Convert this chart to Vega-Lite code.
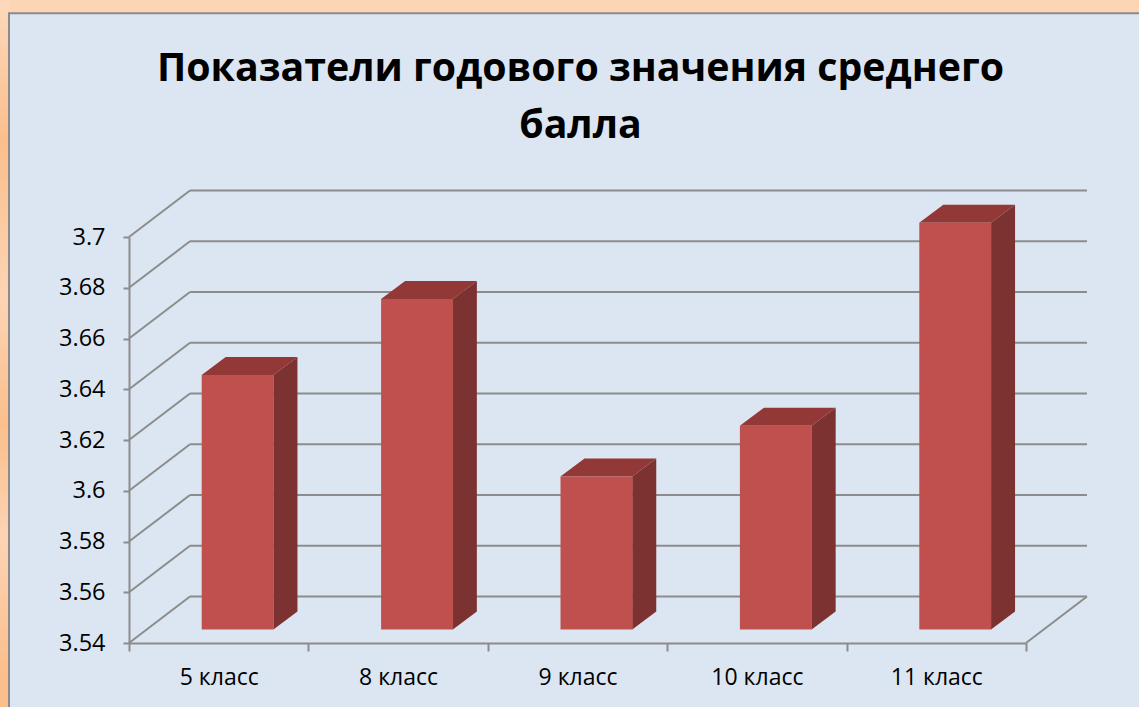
{
"$schema":"https://vega.github.io/schema/vega-lite/v6.json",
"width":897,"height":406,
"autosize":"none",
"padding":{"left":129,"top":237,"right":113,"bottom":64},
"background":"#FCD5B5",
"config":{"view":{"stroke":null},"font":"Open Sans"},
"title":{"text":["Показатели годового значения среднего","балла"],"font":"Open Sans","fontWeight":"bold","fontSize":39.3,"lineHeight":57,"color":"#000000","anchor":"middle","frame":"group","dx":3,"offset":-146},
"data":{"values":[
{"класс":"5 класс","балл":3.64,"i":0},
{"класс":"8 класс","балл":3.67,"i":1},
{"класс":"9 класс","балл":3.60,"i":2},
{"класс":"10 класс","балл":3.62,"i":3},
{"класс":"11 класс","балл":3.70,"i":4}
]},
"resolve":{"scale":{"x":"independent"}},
"layer":[
{"data":{"values":[{}]},
 "mark":{"type":"rect","fill":{"gradient":"linear","x1":0,"y1":0,"x2":0,"y2":1,"stops":[{"offset":0,"color":"#FDD9BC"},{"offset":0.2,"color":"#FBBF8C"},{"offset":0.42,"color":"#FDD4B4"},{"offset":0.6,"color":"#FBBF8C"},{"offset":0.76,"color":"#FDD4B4"},{"offset":0.95,"color":"#FBBF8C"},{"offset":1,"color":"#FBBF8C"}]}},
 "encoding":{"x":{"datum":-0.72,"type":"quantitative","scale":{"domain":[0,5],"nice":false,"zero":false},"axis":null},"x2":{"datum":-0.66},
  "y":{"datum":3.7934,"type":"quantitative","scale":{"domain":[3.54,3.7],"zero":false,"nice":false},"axis":{"values":[3.54,3.56,3.58,3.6,3.62,3.64,3.66,3.68,3.7],"format":".3~g","title":null,"grid":false,"zindex":1,"domainColor":"#8C8C8C","domainWidth":2,"tickColor":"#8C8C8C","tickWidth":2,"tickSize":6,"labelFontSize":23.5,"labelColor":"#000000","labelPadding":18,"labelFont":"Open Sans"}},"y2":{"datum":3.5147}}},
{"data":{"values":[{}]},
 "mark":{"type":"rect","stroke":"#8A8A8A","strokeWidth":2,"fill":"#DCE6F2"},
 "encoding":{"x":{"datum":-0.669,"type":"quantitative","scale":{"domain":[0,5],"nice":false,"zero":false},"axis":null},"x2":{"datum":5.8},
  "y":{"datum":3.7882,"type":"quantitative"},"y2":{"datum":3.49}}},
{"data":{"values":[{"v":3.54},{"v":3.56},{"v":3.58},{"v":3.6},{"v":3.62},{"v":3.64},{"v":3.66},{"v":3.68},{"v":3.7}]},
 "transform":[{"calculate":"datum.v+0.0183","as":"back"}],
 "mark":{"type":"rule","color":"#8C8C8C","strokeWidth":2},
 "encoding":{"x":{"datum":0,"type":"quantitative","axis":null,"scale":{"domain":[0,5],"nice":false,"zero":false}},"x2":{"datum":0.34},"y":{"field":"v","type":"quantitative"},"y2":{"field":"back"}}},
{"data":{"values":[{"v":3.54},{"v":3.56},{"v":3.58},{"v":3.6},{"v":3.62},{"v":3.64},{"v":3.66},{"v":3.68},{"v":3.7}]},
 "transform":[{"calculate":"datum.v+0.0183","as":"back"}],
 "mark":{"type":"rule","color":"#8C8C8C","strokeWidth":2},
 "encoding":{"x":{"datum":0.34,"type":"quantitative","axis":null,"scale":{"domain":[0,5],"nice":false,"zero":false}},"x2":{"datum":5.34},"y":{"field":"back","type":"quantitative"}}},
{"data":{"values":[{"v":3.54}]},
 "mark":{"type":"rule","color":"#8C8C8C","strokeWidth":2},
 "encoding":{"x":{"datum":5,"type":"quantitative","axis":null,"scale":{"domain":[0,5],"nice":false,"zero":false}},"x2":{"datum":5.34},"y":{"field":"v","type":"quantitative"},"y2":{"datum":3.5583}}},
{"transform":[{"calculate":"[0,1]","as":"t"},{"flatten":["t"]},
  {"calculate":"datum.i+0.805+datum.t*0.134","as":"px"},
  {"calculate":"datum['балл']+0.0056+datum.t*0.0071","as":"ytop"},
  {"calculate":"3.54+0.0053+datum.t*0.0071","as":"ybot"}],
 "mark":{"type":"area","orient":"vertical","color":"#7B3230"},
 "encoding":{"x":{"field":"px","type":"quantitative","axis":null,"scale":{"domain":[0,5],"nice":false,"zero":false}},"y":{"field":"ytop","type":"quantitative","stack":null},"y2":{"field":"ybot"},"detail":{"field":"i","type":"nominal"}}},
{"transform":[{"calculate":"[0,1,2,3]","as":"t"},{"flatten":["t"]},
  {"calculate":"datum.i+0.405+[0,0.134,0.4,0.534][datum.t]","as":"px"},
  {"calculate":"datum['балл']+0.0056+[0,0.0071,0.0071,0.0071][datum.t]","as":"ytop"},
  {"calculate":"datum['балл']+0.0056+[0,0,0,0.0071][datum.t]","as":"ybot"}],
 "mark":{"type":"area","orient":"vertical","color":"#923836"},
 "encoding":{"x":{"field":"px","type":"quantitative","axis":null,"scale":{"domain":[0,5],"nice":false,"zero":false}},"y":{"field":"ytop","type":"quantitative","stack":null},"y2":{"field":"ybot"},"detail":{"field":"i","type":"nominal"}}},
{"transform":[{"calculate":"datum['балл']+0.0056","as":"front"}],
 "mark":{"type":"bar","width":72,"xOffset":19,"color":"#C0504D"},
 "encoding":{"x":{"field":"класс","type":"nominal","sort":null,"scale":{"paddingInner":0,"paddingOuter":0},
   "axis":{"title":null,"labelAngle":0,"tickBand":"extent","zindex":1,"domainColor":"#8C8C8C","domainWidth":2,"tickColor":"#8C8C8C","tickWidth":2,"tickSize":8,"labelFontSize":23,"labelColor":"#000000","labelPadding":15,"labelFont":"Open Sans"}},
  "y":{"field":"front","type":"quantitative"},"y2":{"datum":3.5453}}}
]
}
